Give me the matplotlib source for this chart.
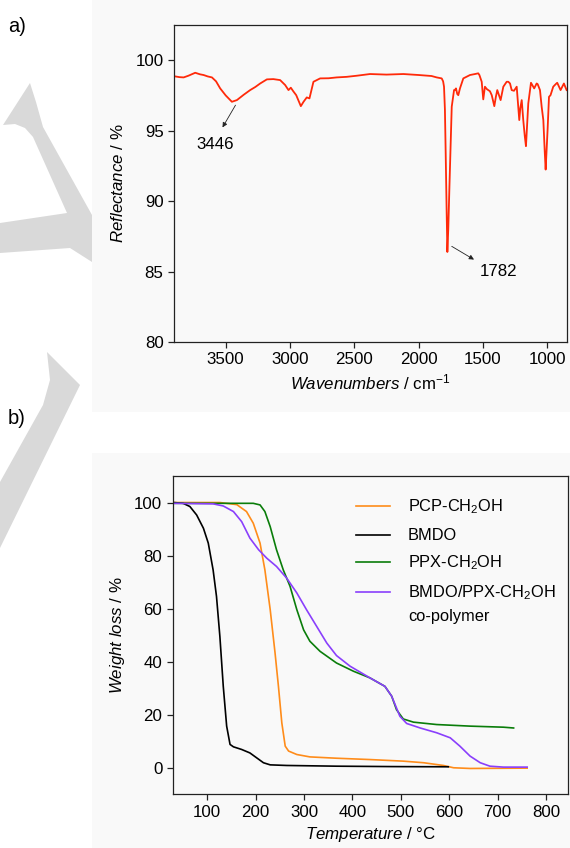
import matplotlib
matplotlib.use("Agg")
import matplotlib.pyplot as plt
from matplotlib.patches import Polygon, Rectangle
import matplotlib.transforms as mtransforms

# ---------------- data: IR spectrum ----------------
ir_wavenumber = [3905, 3860, 3827, 3790, 3737, 3700, 3672, 3640, 3607, 3575, 3543, 3500,
                 3452, 3413, 3360, 3310, 3270, 3232, 3180, 3130, 3077, 3038, 3012, 2994,
                 2975, 2952, 2916, 2895, 2870, 2849, 2818, 2766, 2700, 2637, 2560, 2481,
                 2378, 2250, 2119, 2000, 1900, 1860, 1821, 1810, 1803, 1796, 1790, 1783,
                 1777, 1770, 1761, 1750, 1743, 1725, 1717, 1710, 1700, 1692, 1679, 1653,
                 1627, 1601, 1562, 1537, 1528, 1510, 1498, 1485, 1470, 1459, 1446, 1432,
                 1412, 1400, 1389, 1363, 1342, 1316, 1303, 1290, 1277, 1259, 1238, 1218,
                 1210, 1199, 1187, 1175, 1166, 1148, 1127, 1102, 1083, 1075, 1057, 1044,
                 1031, 1020, 1013, 998, 987, 975, 954, 935, 923, 897, 871, 860, 850]
ir_reflectance = [98.87, 98.80, 98.78, 98.90, 99.11, 99.00, 98.95, 98.85, 98.78, 98.50, 98.00, 97.50,
                  97.05, 97.17, 97.55, 97.88, 98.10, 98.35, 98.64, 98.66, 98.59, 98.24, 97.88, 98.05,
                  97.80, 97.52, 96.74, 97.05, 97.36, 97.29, 98.47, 98.71, 98.72, 98.78, 98.82, 98.90,
                  99.02, 98.98, 99.02, 98.95, 98.88, 98.78, 98.71, 98.50, 98.12, 96.50, 93.38, 89.50,
                  86.39, 88.00, 91.01, 94.50, 96.70, 97.88, 97.90, 98.00, 97.60, 97.52, 98.00, 98.71,
                  98.83, 98.95, 99.02, 99.07, 98.95, 98.47, 97.22, 98.12, 97.95, 97.88, 97.80, 97.52,
                  96.74, 97.40, 97.88, 97.17, 98.12, 98.47, 98.47, 98.35, 97.88, 97.83, 98.12, 95.75,
                  96.60, 97.17, 95.75, 94.60, 93.90, 96.93, 98.40, 98.00, 98.35, 98.30, 97.88, 96.70,
                  95.75, 93.50, 92.24, 95.04, 97.40, 97.52, 98.12, 98.30, 98.40, 97.88, 98.35, 98.10, 97.88]

# ---------------- data: TGA ----------------
bmdo_T = [30, 50, 64, 78, 92, 102, 112, 119, 126, 133, 140, 147, 154, 171, 188, 202, 216,
          230, 264, 367, 480, 598]
bmdo_W = [100.0, 99.7, 98.5, 95.3, 90.3, 84.7, 74.6, 64.6, 49.5, 30.7, 15.7, 8.8, 7.9, 6.9,
          5.6, 3.75, 1.9, 1.1, 0.87, 0.6, 0.45, 0.37]

pcp_T = [30, 126, 161, 181, 195, 209, 219, 230, 240, 247, 254, 261, 268, 285, 312, 367,
         436, 505, 547, 588, 609, 643, 761]
pcp_W = [100.0, 100.0, 99.2, 96.6, 92.2, 84.7, 74.6, 59.6, 43.3, 30.7, 16.9, 8.15, 6.3, 5.0,
         4.1, 3.6, 3.1, 2.5, 1.9, 0.87, 0.0, -0.26, -0.13]

ppx_T = [30, 195, 209, 219, 230, 243, 257, 271, 285, 299, 312, 333, 367, 402, 436, 467,
         481, 491, 505, 526, 574, 643, 712, 733]
ppx_W = [99.7, 99.7, 99.1, 96.6, 90.9, 82.2, 74.6, 68.4, 59.6, 52.0, 47.7, 43.9, 39.5, 36.4,
         33.9, 30.7, 27.0, 21.9, 18.4, 17.2, 16.3, 15.7, 15.3, 15.0]

cop_T = [30, 112, 133, 154, 171, 188, 206, 223, 243, 264, 285, 305, 326, 347, 367, 395,
         436, 467, 481, 498, 512, 540, 574, 602, 622, 643, 664, 684, 712, 761]
cop_W = [99.7, 99.5, 98.7, 96.6, 92.8, 86.6, 82.2, 79.0, 75.9, 71.5, 65.9, 59.6, 53.3, 47.0,
         42.3, 38.3, 33.9, 30.7, 27.0, 19.4, 16.7, 15.0, 13.2, 11.3, 8.15, 4.4, 1.9, 0.6,
         0.25, 0.25]

legend_labels = ["PCP-CH$_2$OH", "BMDO", "PPX-CH$_2$OH", "BMDO/PPX-CH$_2$OH"]
legend_extra = "co-polymer"

ir_ticks_x = [3500, 3000, 2500, 2000, 1500, 1000]
ir_ticks_y = [80, 85, 90, 95, 100]
tga_ticks_x = [100, 200, 300, 400, 500, 600, 700, 800]
tga_ticks_y = [0, 20, 40, 60, 80, 100]

# ---------------- style ----------------
plt.rcParams['font.family'] = ['Liberation Sans', 'DejaVu Sans']
plt.rcParams['mathtext.fontset'] = 'custom'
plt.rcParams['mathtext.rm'] = 'Liberation Sans'
plt.rcParams['mathtext.it'] = 'Liberation Sans:italic'
plt.rcParams['mathtext.bf'] = 'Liberation Sans:bold'

W_PX, H_PX = 570, 848
fig = plt.figure(figsize=(W_PX / 100, H_PX / 100), dpi=100)
fig.patch.set_facecolor('white')

def px(x, y):
    return (x / W_PX, 1 - y / H_PX)

wm_color = '#d9d9d9'
wm1 = [(30, 83), (3, 125), (15, 124), (25, 128), (33, 137), (67, 213), (0, 223), (0, 253),
       (70, 248), (92, 262), (92, 215), (43, 127), (36, 102)]
wm2 = [(47, 352), (80, 385), (0, 548), (0, 482), (43, 405), (50, 380)]
for poly in (wm1, wm2):
    fig.patches.append(Polygon([px(*p) for p in poly], closed=True, transform=fig.transFigure,
                               facecolor=wm_color, edgecolor='none', zorder=-3))

panel_color = '#f9f9f9'
for (x0, y0, x1, y1) in [(92, 0, 570, 412), (92, 453, 570, 848)]:
    fig.patches.append(Rectangle(px(x0, y1), (x1 - x0) / W_PX, (y1 - y0) / H_PX,
                                 transform=fig.transFigure, facecolor=panel_color,
                                 edgecolor='none', zorder=-2))

fig.text(8 / W_PX, 1 - 27 / H_PX, "a)", fontsize=14.5, va='center', ha='left')
fig.text(8 / W_PX, 1 - 418 / H_PX, "b)", fontsize=14.5, va='center', ha='left')

FS = 12.2
FS_LEG = 11.8

def style_axes(ax):
    ax.set_facecolor('none')
    for s in ax.spines.values():
        s.set_linewidth(0.9)
        s.set_color('#222222')
    ax.tick_params(direction='out', length=4.5, width=0.9, labelsize=FS, pad=3,
                   top=False, right=False, color='#222222')

# ---------------- IR axes ----------------
ax1 = fig.add_axes([174 / W_PX, 1 - 342 / H_PX, 393 / W_PX, 317 / H_PX])
style_axes(ax1)
ax1.plot(ir_wavenumber, ir_reflectance, color='#ff2a0a', lw=1.3)
ax1.set_xlim(3902, 847)
ax1.set_ylim(80, 102.5)
ax1.set_xticks(ir_ticks_x)
ax1.set_yticks(ir_ticks_y)
ax1.set_xlabel(r"$\mathit{Wavenumbers}$ / cm$^{-1}$", fontsize=FS, labelpad=4)
ax1.set_ylabel(r"$\mathit{Reflectance}$ / %", fontsize=FS, labelpad=7)

ax1.annotate('', xy=(3525, 95.23), xytext=(3424, 96.81),
             arrowprops=dict(arrowstyle='-|>', lw=0.6, color='#222222', mutation_scale=7,
                             shrinkA=0, shrinkB=0))
ax1.text(3582, 94.04, "3446", fontsize=FS, ha='center', va='center')
ax1.annotate('', xy=(1570, 85.85), xytext=(1743, 86.79),
             arrowprops=dict(arrowstyle='-|>', lw=0.6, color='#222222', mutation_scale=7,
                             shrinkA=0, shrinkB=0))
ax1.text(1376, 85.02, "1782", fontsize=FS, ha='center', va='center')

# ---------------- TGA axes ----------------
ax2 = fig.add_axes([172.7 / W_PX, 1 - 794.3 / H_PX, 395.6 / W_PX, 318.3 / H_PX])
style_axes(ax2)
colors = ['#ff8c1a', '#000000', '#0a7d0a', '#8a3ffc']
series = [(pcp_T, pcp_W), (bmdo_T, bmdo_W), (ppx_T, ppx_W), (cop_T, cop_W)]
for (t, w), c in zip(series, colors):
    ax2.plot(t, w, color=c, lw=1.2)
ax2.set_xlim(28.5, 846)
ax2.set_ylim(-10, 110)
ax2.set_xticks(tga_ticks_x)
ax2.set_yticks(tga_ticks_y)
ax2.set_xlabel(r"$\mathit{Temperature}$ / °C", fontsize=FS, labelpad=4)
ax2.set_ylabel(r"$\mathit{Weight\ loss}$ / %", fontsize=FS, labelpad=5)

# manual legend
leg_y = [0.9057, 0.8147, 0.7308, 0.6365]
off = mtransforms.offset_copy(ax2.transAxes, fig=fig, x=0, y=-5.5, units='dots')
for yy, lab, c in zip(leg_y, legend_labels, colors):
    ax2.plot([0.4626, 0.549], [yy, yy], transform=ax2.transAxes, color=c, lw=1.2)
    ax2.text(0.595, yy, lab, transform=off, fontsize=FS_LEG, ha='left', va='baseline')
ax2.text(0.595, 0.5633, legend_extra, transform=off, fontsize=FS_LEG, ha='left', va='baseline')

fig.savefig("out.png", dpi=100, facecolor='white')
